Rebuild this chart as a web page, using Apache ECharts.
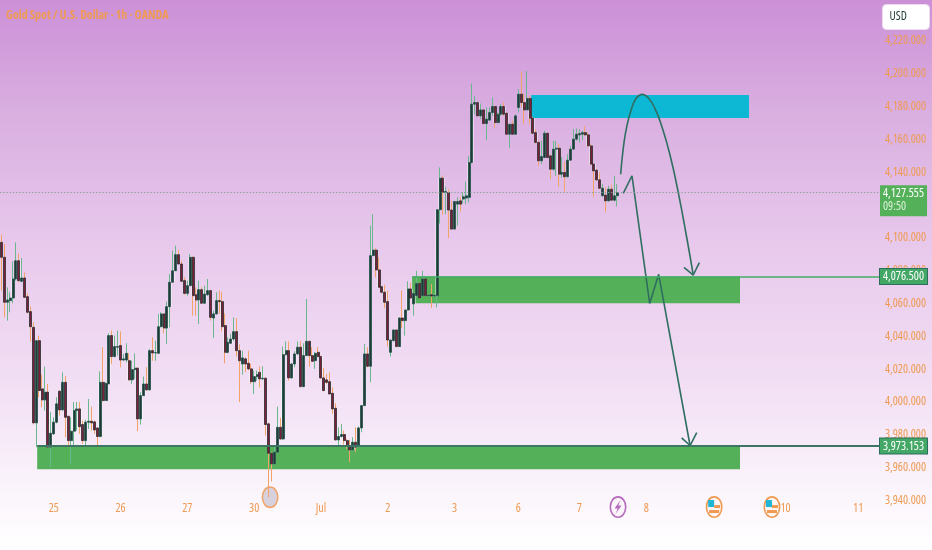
<!DOCTYPE html>
<html><head><meta charset="utf-8">
<style>html,body{margin:0;padding:0;width:932px;height:550px;overflow:hidden}#c{width:932px;height:550px}</style>
<script src="https://cdn.jsdelivr.net/npm/echarts@6/dist/echarts.min.js"></script>
</head><body><div id="c"></div>
<script>
const titleText = "Gold Spot / U.S. Dollar \u00b7 1h \u00b7 OANDA";
const tickPositions = [18,41,64,87,110,133,156,178,199,222,246,270,295];
const tickLabels = ["25","26","27","30","Jul","2","3","6","7","8","9","10","11"];
const barSlots = 303;

const opens = [4097.3,4088.2,4060.8,4061.8,4063.4,4075,4086.1,4073.6,4075.6,4064.2,4055.1,4045.5,3987.3,4037.4,4008,4001.3,4006,3972.5,3980.6,3987.7,
4006.6,3995.2,4012,3991.3,3976.5,3982.2,3994.8,3995.8,3986.3,3976.5,3987.7,3988.3,3987.9,3984.2,3979,4012,4000.9,4011,4040.5,4027.7,
4033.4,4034.4,4025.6,4025.6,4025.2,4013.5,4019.8,4020.6,3989.7,4003.9,4011,4007.4,4031.3,4029.9,4029.7,4045.9,4053.7,4045.1,4058.1,4073,
4080,4089.8,4084.1,4074,4066.2,4070.9,4088.2,4065.4,4062.2,4068.5,4060.2,4065.4,4067.9,4051.2,4053.7,4061.8,4061.2,4046.6,4030.3,4035.8,
4038.4,4042.9,4031.3,4023.2,4026.3,4023.6,4020.2,4012.4,4015.5,4018.1,4014.1,4014.5,3986.7,3968.8,3962.3,3969.4,3984.6,3977.5,4028.9,4031.3,
4014.7,4023.2,4029.3,4033.4,4009.4,4028.3,4037,4028.3,4025.2,4030.3,4027.7,4014.7,4013.5,4012.4,4005.3,3996.2,3976.9,3979,3980.2,3976.5,
3973.5,3970.8,3975.5,3972.9,3984.2,3997.8,4029.3,4021.8,4089.2,4092.6,4080.5,4070.3,4066.9,4061.2,4030.3,4037.4,4043.9,4033.8,4051.2,4049.6,
4056.1,4068.9,4059.8,4064.8,4072.3,4064.8,4075,4064.8,4065.4,4064.6,4064.8,4117.2,4136.4,4127.7,4127.7,4117,4105.4,4120.6,4122.6,4123.7,
4124.3,4124.7,4146,4181.5,4182.5,4174.4,4178,4169.7,4171.8,4176.4,4180.1,4170.3,4175.4,4180.1,4176,4163.2,4169.3,4163.2,4179.5,4187.6,
4182.5,4178,4185,4173,4164.2,4158.2,4147,4149,4163.8,4150,4141.9,4154.1,4154.7,4138.9,4139.9,4137.3,4147.4,4154.1,4160.2,4162.8,
4163.2,4164.2,4162.8,4156.1,4145,4141.3,4135.4,4125.7,4126.1,4122.6,4129.7,4123,4125.7];
const closes = [4088.2,4060.8,4062.2,4063.4,4075,4086.1,4074,4075.6,4063.8,4054.7,4045.9,3987.3,4037.4,4007,4001.3,4006,3972.5,3981,3987.7,3998.9,
3995.2,4012,3990.7,3976.5,3982.2,3994.8,3995.8,3985,3976.5,3987.7,3988.3,3987.3,3983,3979,4012,4000.9,4011.4,4040.5,4027.7,4033.8,
4033.8,4025.6,4026.3,4029.7,4013.5,4019.8,4020.6,3989.7,4003.9,4011,4007.4,4031.3,4029.9,4030.1,4045.9,4053.7,4045.1,4058.1,4073,4080,
4089.8,4084.1,4073.6,4066.2,4070.9,4088.2,4064.8,4062.2,4068.5,4060.2,4065.8,4067.9,4051.6,4053.7,4061.8,4061.2,4045.9,4030.3,4036.4,4038.4,
4042.9,4031.3,4025.2,4026.9,4023.2,4020.2,4012.4,4015.5,4016.7,4014.1,4014.5,3986.3,3968.8,3962.3,3969.4,3984.6,3977.5,4028.9,4031.3,4014.7,
4023.2,4029.3,4033.4,4009.4,4028.3,4037,4028.3,4024.8,4029.7,4027.7,4014.7,4007,4012,4004.9,3995.8,3976.9,3979,3980.2,3976.5,3973.5,
3970.8,3975.5,3972.5,3984.2,3997.8,4029.3,4021.8,4089.2,4092.6,4080.5,4069.9,4066.9,4060.8,4037.8,4037.8,4043.9,4033.8,4051.2,4049.6,4056.1,
4068.9,4063.4,4066.2,4072.3,4063.4,4075,4064.8,4065.2,4064.6,4065,4117.2,4136.4,4127.7,4128.3,4117,4105.4,4122.2,4122.2,4120.6,4125.1,
4125.7,4146,4181.5,4182.5,4174.4,4178,4169.7,4172.4,4176.4,4180.1,4170.3,4175.4,4180.1,4175.4,4163.2,4169.3,4163.2,4174.4,4187.6,4182.5,
4178,4185,4173,4163.8,4158.2,4147,4149.6,4163.8,4149,4141.9,4154.1,4154.7,4138.9,4139.9,4137.3,4147.4,4154.1,4160.2,4163.2,4163.6,
4164.2,4162.8,4156.1,4145,4140.9,4135.4,4130.3,4130.3,4122.6,4129.7,4123,4125.7,4127.555];
const lows = [4067.9,4051.6,4049.6,4054.7,4060.2,4074,4073,4073,4063.4,4054,4037,3986.3,3972.5,4002.9,3996.8,3994.8,3972,3960.3,3980,3987,
3991.7,3994.8,3978.5,3972.5,3962.3,3972.5,3982.6,3980.6,3974.5,3972.5,3983.6,3982.6,3980.6,3972.5,3978.5,4000.5,4000.9,4011,4023.2,4027.3,
4028.3,4021.2,4025.2,4024.2,4013.1,4011,4014.1,3982.2,3986.3,4003.9,4007,4007,4025.2,4025.2,4029.3,4045.5,4041.9,4035.4,4045.5,4073,
4080,4084.1,4073,4065.4,4064.8,4070.9,4052.6,4052.6,4047.6,4059.8,4059.8,4064.8,4049.6,4039,4053.3,4053.7,4043.1,4023.6,4029.7,4035.4,
4037.4,4027.7,3999.9,4016.7,4018.1,4019.2,4011,4004.9,4013.1,4009,4013.5,3979.6,3942,3951.5,3961.3,3968.4,3976.9,3976.9,4028.3,4013.1,
4014.3,4021.2,4028.9,4009,4009,4028.3,4021.6,4024.8,4020.2,4027.3,4014.1,4006.6,4011,4004.5,3992.8,3976.5,3972.5,3978.5,3974.1,3971.4,
3963.3,3970.4,3969.4,3972.5,3981.6,3997.8,4021.2,4012,4089.2,4076,4069.9,4066.2,4057.1,4033.8,4027.7,4037,4033.4,4033.8,4045.1,4040.5,
4055.7,4063,4052.6,4064.6,4063,4064.6,4064.6,4064.2,4057.3,4064.2,4057.7,4108.8,4114.1,4114.5,4099.9,4105.2,4105.2,4107.4,4116.1,4121,
4120.6,4121.6,4145.4,4175.4,4174.4,4172.4,4169.3,4159.6,4171.4,4174.4,4167.3,4169.9,4174.4,4174.4,4162.8,4154.7,4162.8,4162.8,4176.4,4179.5,
4169.3,4177.8,4169.3,4163.2,4157.6,4144,4145,4148.6,4148.6,4135.8,4140.9,4137.9,4131.2,4136.8,4128.3,4136.9,4147,4154.1,4159.2,4158.2,
4159.6,4162.2,4155.5,4144.6,4125.1,4134.8,4129.7,4125.1,4115.5,4122.2,4122.6,4122.2,4119.2];
const highs = [4102,4096.3,4069.9,4066.9,4085.7,4097.3,4090.6,4087.8,4079,4066.2,4058.1,4048.6,4037.8,4040.5,4016.7,4021.6,4011,3993.8,3990.7,4002.9,
4007,4018.1,4015.9,3991.7,3990.7,4000,4000,4000,3988.7,3989.1,4001.9,3997.2,3988.7,3984.6,4018.7,4033.4,4012,4041.9,4043.5,4040.5,
4043.5,4043.1,4029.3,4035.8,4029.7,4025.2,4029.7,4021.2,4006,4015.5,4021.2,4032.3,4039.4,4037.4,4053.7,4054.7,4054.1,4061.2,4078,4092.2,
4095.3,4092.6,4086.1,4076,4074,4090.2,4088.6,4069.9,4074,4069.9,4070.9,4075,4068.3,4055.7,4066.9,4067.9,4066.9,4054,4039.4,4041.5,
4051.6,4051.2,4035,4031.3,4027.3,4031.3,4023.2,4019.2,4019.2,4021.8,4021.8,4015.1,3987.5,3969.4,3972.5,3997.2,3990.3,4033.8,4037,4037,
4023.6,4030.9,4037,4037,4035.8,4062.8,4037.4,4033.4,4030.3,4033.4,4028.3,4020.8,4017.1,4018.1,4009,3999.3,3984.6,3986.7,3982.6,3977.5,
3976.9,3978.5,3984.6,3985,3998.2,4035.4,4033.4,4107.5,4114.5,4093.9,4088.2,4070.3,4071.5,4067.9,4037.8,4044.3,4044.3,4051.6,4067.9,4056.1,
4073.6,4072.7,4066.6,4080,4072.7,4080,4075.4,4065.6,4071.9,4065.4,4117.2,4143,4137.9,4131.2,4129.7,4122.6,4122.6,4124.7,4125.1,4127.7,
4134.4,4150,4194.1,4186.6,4182.5,4181.9,4178.5,4179.5,4179.5,4185.6,4180.5,4176.4,4181.5,4182.5,4176.4,4169.3,4171.4,4175.4,4190.6,4201.4,
4187.6,4201.8,4186.6,4173.8,4166.3,4159.2,4159.2,4165.3,4164.2,4151,4159.2,4159.2,4157.2,4149.4,4146.4,4151,4156.1,4166.3,4166.7,4166.3,
4165.3,4167.9,4164.2,4157.1,4145.4,4141.9,4139.9,4132.8,4130.8,4131.8,4132.4,4137.9,4132.8];

const lastPrice = 4127.555, countdown = "09:50";
const upperLevel = 4076.5, lowerLevel = 3973.153;
const tealZone  = {x0:182.4, x1:257.4, top:4187.1, bottom:4173.1};
const midZone   = {x0:141.4, x1:254.3, top:4076.5, bottom:4060.2};
const lowZone   = {x0:12.3,  x1:254.3, top:3973.153, bottom:3959};

const arcXs = [213.2,214.1,215.3,217,218.7,220.7,222.7,225.1,227.4,230.2,233.1,236,238.2];
const arcYs = [4138.8,4154.6,4167.8,4179,4185.4,4187.5,4185.4,4178.5,4167.8,4150.5,4127.2,4099.8,4077.4];
const arcHeadXs = [235,238.2,240.3];
const arcHeadYs = [4082.1,4077.4,4084.9];
const zigXs = [214.1,217.1,223.2,226.3,237.1];
const zigYs = [4127.2,4137.9,4060.1,4077.8,3973.5];
const zigHeadXs = [234.2,237.1,239.4];
const zigHeadYs = [3978.2,3973.5,3981.3];

const eventXs = [92.5,212.3,245.4,265.3];
const eventYs = [3942,3936,3936,3936];
const eventKinds = ["low","bolt","flag","flag"];

const ORANGE="#ee9a52", BAND="#55b05a", DARK="#2f6e60";
const fontNarrow='"Open Sans",sans-serif';
const NARROW={fontFamily:fontNarrow,fontStyle:"condensed",fontSize:12};
const fmt=v=>v.toLocaleString("en-US",{minimumFractionDigits:3,maximumFractionDigits:3});
const categories=Array.from({length:barSlots},(_,i)=>String(i));
const full=opens.map((o,i)=>[o,closes[i],lows[i],highs[i]]);
const bodies=opens.map((o,i)=>[o,closes[i],Math.min(o,closes[i]),Math.max(o,closes[i])]);
const zip=(a,b)=>a.map((v,i)=>[v,b[i]]);
const pathSeries=(xs,ys,smooth)=>({type:"line",xAxisIndex:1,data:zip(xs,ys),smooth:smooth,showSymbol:false,symbol:"none",silent:true,z:6,clip:false,
  lineStyle:{color:DARK,width:1.6},animation:false});
const zone=(name,z,col)=>({type:"line",xAxisIndex:1,data:[],z:1,silent:true,markArea:{silent:true,z:1,itemStyle:{color:col,opacity:1},
  data:[[{xAxis:z.x0,yAxis:z.top},{xAxis:z.x1,yAxis:z.bottom}]]}});
const levelLabel=(t,bg,bc)=>Object.assign({show:true,position:"end",distance:0,formatter:t,color:"#fff",backgroundColor:bg,borderColor:bc,borderWidth:1,
  padding:[2,3,1,3]},NARROW);

const renderEvent=(params,api)=>{
  const p=api.coord([api.value(0),api.value(1)]), k=eventKinds[params.dataIndex], cx=p[0], cy=p[1];
  const ring=(stroke,fill)=>({type:"ellipse",shape:{cx,cy,rx:7.7,ry:10.2},style:{stroke,fill,lineWidth:1.6}});
  if(k==="low") return {type:"group",children:[ring("#f0a56c","#d7d1de")]};
  if(k==="bolt") return {type:"group",children:[ring("#b56abc","#fbf4fb"),
    {type:"polygon",shape:{points:[[cx+2.5,cy-7],[cx-3.5,cy+1.5],[cx-.3,cy+1.5],[cx-2.5,cy+7],[cx+3.5,cy-1.5],[cx+.3,cy-1.5]]},style:{fill:"#b56abc"}}]};
  return {type:"group",children:[ring(ORANGE,"#fdf6f4"),
    {type:"rect",shape:{x:cx-6,y:cy-7,width:6,height:7},style:{fill:"#1fb6d6"}},
    {type:"rect",shape:{x:cx,y:cy-2,width:6,height:3},style:{fill:ORANGE}},
    {type:"rect",shape:{x:cx-5,y:cy+3,width:10,height:3},style:{fill:ORANGE}}]};
};

const chart=echarts.init(document.getElementById("c"),null,{renderer:"canvas",width:932,height:550});
chart.setOption({
  animation:false,
  backgroundColor:{type:"linear",x:0,y:0,x2:0,y2:1,colorStops:[
    {offset:0,color:"#cc90d7"},{offset:.2,color:"#d9aee0"},{offset:.45,color:"#e8c9ec"},{offset:.7,color:"#f2dff4"},{offset:.9,color:"#fbf5fc"},{offset:1,color:"#ffffff"}]},
  title:{text:titleText,left:6,top:10,padding:0,textStyle:{color:ORANGE,fontSize:12,fontWeight:"bold",fontStyle:"condensed",fontFamily:fontNarrow}},
  grid:{left:0,width:880,top:8.2,height:525.1,containLabel:false,outerBoundsMode:"none"},
  xAxis:[
    {type:"category",data:categories,boundaryGap:true,axisLine:{show:false},axisTick:{show:false},splitLine:{show:false},
      axisLabel:Object.assign({margin:-31,interval:i=>tickPositions.includes(i),color:ORANGE,
        formatter:(v,i)=>tickLabels[tickPositions.indexOf(+v)]||""},NARROW)},
    {type:"value",min:-0.5,max:barSlots-0.5,show:false,splitLine:{show:false}}],
  yAxis:{type:"value",position:"right",min:3920,max:4240,interval:20,axisLine:{show:false},axisTick:{show:false},splitLine:{show:false},
    axisLabel:Object.assign({margin:5,color:ORANGE,formatter:v=>(v===4240||v===3920)?"":fmt(v)},NARROW)},
  series:[
    zone("teal",tealZone,"#0db8d5"),
    zone("mid",midZone,BAND),
    zone("low",lowZone,BAND),
    {type:"custom",xAxisIndex:1,coordinateSystem:"cartesian2d",clip:false,z:2,silent:true,renderItem:renderEvent,data:zip(eventXs,eventYs)},
    {type:"candlestick",name:"halo",data:bodies,barWidth:3,z:3,silent:true,itemStyle:{color:"rgba(255,255,255,.45)",color0:"rgba(255,255,255,.45)",borderColor:"rgba(255,255,255,.45)",borderColor0:"rgba(255,255,255,.45)",borderWidth:.6}},
    {type:"candlestick",name:"wicks",data:full,barWidth:1,z:4,silent:true,itemStyle:{color:"#6ab88e",color0:"#f2a468",borderColor:"#6ab88e",borderColor0:"#f2a468",borderWidth:1}},
    {type:"candlestick",name:"bodies",data:bodies,barWidth:2.5,z:5,silent:true,itemStyle:{color:"#203a36",color0:"#7b1f3a",borderColor:"#25504a",borderColor0:"#2a2c30",borderWidth:.8}},
    pathSeries(arcXs,arcYs,true),pathSeries(arcHeadXs,arcHeadYs,false),
    pathSeries(zigXs,zigYs,false),pathSeries(zigHeadXs,zigHeadYs,false),
    {type:"line",xAxisIndex:1,data:[],z:7,silent:true,markLine:{silent:true,symbol:"none",animation:false,precision:3,z:7,data:[
      [{coord:[-0.5,lastPrice],lineStyle:{color:"#7f9f95",type:[1.2,2],width:1},
        label:{show:true,position:"end",distance:0,offset:[0,8],formatter:"{a|"+fmt(lastPrice)+"}\n{b|"+countdown+"}",backgroundColor:BAND,padding:[2,3,3,3],
          rich:{a:Object.assign({color:"#fff",lineHeight:13},NARROW),b:Object.assign({color:"#d9f0da",lineHeight:13},NARROW)}}},
       {coord:[barSlots-0.5,lastPrice]}],
      [{coord:[141.4,upperLevel],lineStyle:{color:"#45ad65",type:"solid",width:1.6},label:levelLabel(fmt(upperLevel),"#43a766","#2d6d5d")},
       {coord:[barSlots-0.5,upperLevel]}],
      [{coord:[12.3,lowerLevel],lineStyle:{color:"#3d7565",type:"solid",width:1.8},label:levelLabel(fmt(lowerLevel),"#43a766","#2d6d5d")},
       {coord:[barSlots-0.5,lowerLevel]}]
    ]}}
  ],
  graphic:[{type:"group",left:882,top:4,z:100,children:[
    {type:"rect",shape:{x:0,y:0,width:47,height:25,r:4},style:{fill:"#fff",stroke:"#eddcf0"}},
    {type:"text",x:7,y:6,style:Object.assign({text:"USD",fill:"#24403a",font:'condensed 12px "Open Sans"'})}]}]
});
</script></body></html>
